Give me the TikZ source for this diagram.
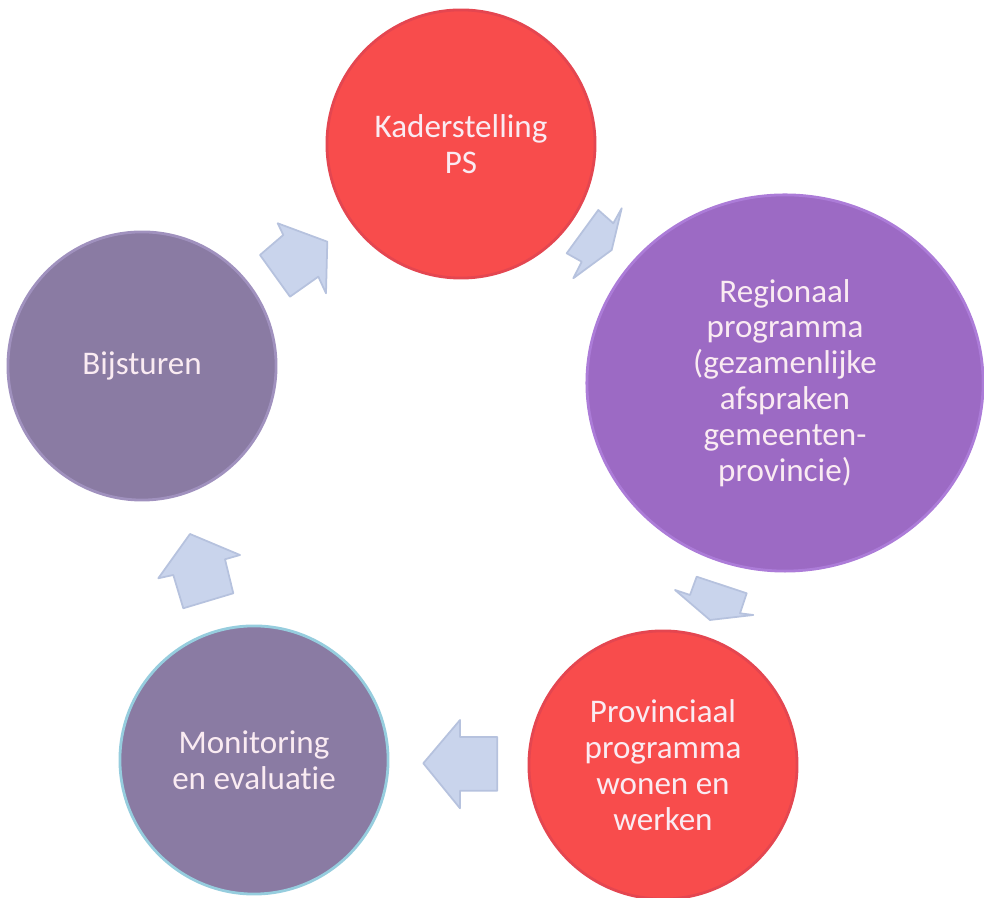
\documentclass[tikz,border=0pt]{standalone}
\usepackage{fontspec}
\setmainfont{Carlito}[Ligatures={NoCommon,NoRare,NoContextual}]
\usetikzlibrary{shapes.geometric}
\definecolor{kaderred}{RGB}{248,76,76}
\definecolor{kaderrim}{RGB}{228,70,80}
\definecolor{regiopurple}{RGB}{156,106,196}
\definecolor{regiorim}{RGB}{172,124,216}
\definecolor{greypurple}{RGB}{138,123,163}
\definecolor{bijstrim}{RGB}{160,145,190}
\definecolor{monitorrim}{RGB}{150,205,222}
\definecolor{arrowfill}{RGB}{201,212,236}
\definecolor{arrowedge}{RGB}{182,194,222}
\definecolor{labeltext}{RGB}{250,235,242}
\begin{document}
\begin{tikzpicture}[x=0.01cm, y=-0.01cm,
    every node/.style={font={\fontsize{9.4}{10.2}\selectfont}, text=labeltext, align=center, inner sep=0pt},
    bol/.style={shape=circle, minimum size=2.68cm, line width=0.8pt},
    pijl/.style={fill=arrowfill, draw=arrowedge, line width=0.5pt, line join=round}]
    \useasboundingbox (0,0) rectangle (984,898);
    \node[bol, fill=kaderred, draw=kaderrim] (kader) at (461,144) {Kaderstelling\\PS};
    \node[shape=ellipse, minimum width=3.96cm, minimum height=3.76cm, line width=0.8pt, fill=regiopurple, draw=regiorim] (regio) at (785,383) {Regionaal\\programma\\(gezamenlijke\\afspraken\\gemeenten-\\provincie)};
    \node[bol, fill=kaderred, draw=kaderrim] (provin) at (663,765) {Provinciaal\\programma\\wonen en\\werken};
    \node[bol, fill=greypurple, draw=monitorrim] (monitor) at (254,760) {Monitoring\\en evaluatie};
    \node[bol, fill=greypurple, draw=bijstrim] (bijst) at (142,366) {Bijsturen};
    % pijlen tussen de stappen
    \filldraw[pijl] (277.7,223.3) -- (283.3,235) -- (260,255) -- (290,296.7) -- (318.3,276.7) -- (326,293.3) -- (327.3,241.7) -- cycle;
    \filldraw[pijl] (621.7,208.3) -- (613.3,223.3) -- (598.3,210) -- (566.7,253.3) -- (581.7,261.7) -- (573.3,278.3) -- (611.7,250) -- cycle;
    \filldraw[pijl] (675,590) -- (690,595) -- (696.7,576.7) -- (746.7,593.3) -- (740,613.3) -- (753.3,615) -- (710,620) -- cycle;
    \filldraw[pijl] (423.3,763.3) -- (460,720) -- (460,737) -- (497.3,737) -- (497.3,790.7) -- (460,790.7) -- (460,808.3) -- cycle;
    \filldraw[pijl] (190,534) -- (240,555) -- (225,559.3) -- (233.3,593.3) -- (183.3,608.3) -- (173.3,575) -- (158.3,578.3) -- cycle;
\end{tikzpicture}
\end{document}
